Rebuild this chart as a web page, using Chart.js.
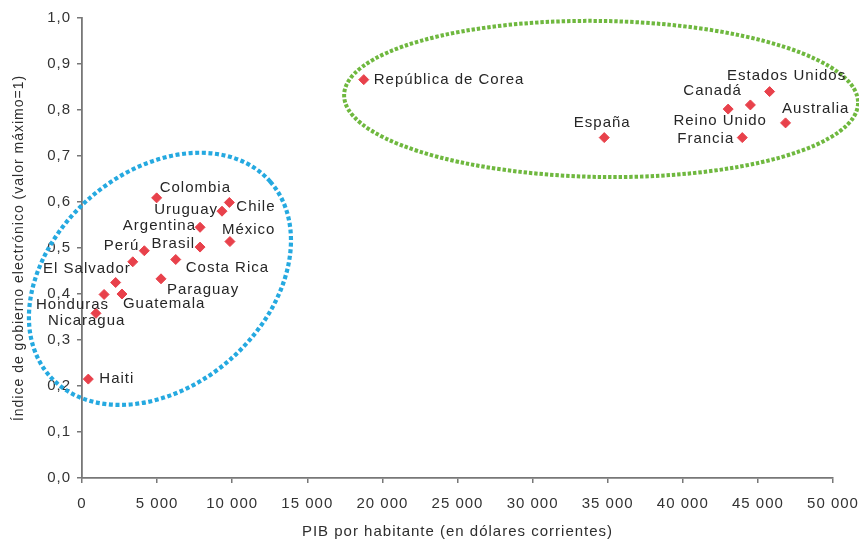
<!DOCTYPE html>
<html>
<head>
<meta charset="utf-8">
<script src="https://cdn.jsdelivr.net/npm/chart.js@4/dist/chart.umd.min.js"></script>
<style>
  html, body { margin: 0; padding: 0; background: #ffffff; }
  #wrap { width: 859px; height: 541px; position: relative; }
</style>
</head>
<body>
<div id="wrap"><canvas id="c"></canvas></div>
<script>
// ---- Data ----
const countries = [
  'Colombia', 'Chile', 'Uruguay', 'Argentina', 'México', 'Brasil', 'Perú',
  'Costa Rica', 'El Salvador', 'Paraguay', '', 'Guatemala', 'Honduras',
  'Nicaragua', 'Haiti',
  'República de Corea', 'España', 'Estados Unidos', 'Canadá', 'Reino Unido',
  'Australia', 'Francia'
];
const gdpPerCapita = [
  4970, 9810, 9320, 7860, 9850, 7860, 4150,
  6240, 3380, 5260, 2240, 2660, 1470,
  930, 420,
  18760, 34770, 45780, 44500, 43020,
  46840, 43960
];
const egovIndex = [
  0.609, 0.599, 0.580, 0.545, 0.514, 0.502, 0.494,
  0.475, 0.470, 0.433, 0.425, 0.400, 0.399,
  0.358, 0.215,
  0.866, 0.740, 0.840, 0.811, 0.802,
  0.772, 0.740
];
const xTicks = [0, 5000, 10000, 15000, 20000, 25000, 30000, 35000, 40000, 45000, 50000];
const yTicks = [0, 0.1, 0.2, 0.3, 0.4, 0.5, 0.6, 0.7, 0.8, 0.9, 1.0];
const xTitle = 'PIB por habitante (en dólares corrientes)';
const yTitle = 'Índice de gobierno electrónico (valor máximo=1)';

// ---- Label placement (style, in pixels relative to marker) ----
const labelPlacement = {
  'Colombia': ['left', 3, -10],
  'Chile': ['left', 7, 4],
  'Uruguay': ['right', -4, -1],
  'Argentina': ['right', -4, -1],
  'México': ['left', -8, -12],
  'Brasil': ['right', -5, -3],
  'Perú': ['right', -5, -5],
  'Costa Rica': ['left', 10, 8],
  'El Salvador': ['right', -2, 7],
  'Paraguay': ['left', 6, 11],
  'Guatemala': ['left', 1, 10],
  'Honduras': ['right', 5, 10],
  'Nicaragua': ['left', -48, 8],
  'Haiti': ['left', 11, 0],
  'República de Corea': ['left', 10, 0],
  'España': ['center', -2, -15],
  'Estados Unidos': ['center', 17, -16],
  'Canadá': ['right', -8.5, -14],
  'Reino Unido': ['center', -8, 12],
  'Australia': ['left', -3.5, -14],
  'Francia': ['right', -8, 1]
};

// Group outlines (center in data units, radii in px, rotation in degrees)
const groupOutlines = [
  { cx: 5190, cy: 0.433, rx: 147, ry: 107, rot: -41.4, color: '#25a9e0', width: 4.2, dash: [4, 2.6] },
  { cx: 34560, cy: 0.824, rx: 257, ry: 78, rot: 0.9, color: '#6fb83f', width: 4, dash: [3.4, 1.9] }
];

const FONT = "'Liberation Sans', Arial, sans-serif";
Chart.defaults.font.family = FONT;

const spacingPlugin = {
  id: 'spacing',
  beforeLayout(chart) { chart.ctx.letterSpacing = '1px'; },
  beforeDraw(chart) { chart.ctx.letterSpacing = '1px'; }
};

const outlinePlugin = {
  id: 'outlines',
  beforeDatasetsDraw(chart) {
    const ctx = chart.ctx, xs = chart.scales.x, ys = chart.scales.y;
    groupOutlines.forEach(o => {
      ctx.save();
      ctx.beginPath();
      ctx.ellipse(xs.getPixelForValue(o.cx), ys.getPixelForValue(o.cy), o.rx, o.ry,
                  o.rot * Math.PI / 180, 0, Math.PI * 2);
      ctx.strokeStyle = o.color;
      ctx.lineWidth = o.width;
      ctx.setLineDash(o.dash);
      ctx.lineCap = 'butt';
      ctx.stroke();
      ctx.restore();
    });
  }
};

const labelPlugin = {
  id: 'pointLabels',
  afterDatasetsDraw(chart) {
    const ctx = chart.ctx;
    const meta = chart.getDatasetMeta(0);
    ctx.save();
    ctx.letterSpacing = '1px';
    ctx.font = '15px ' + FONT;
    ctx.fillStyle = '#262626';
    ctx.textBaseline = 'middle';
    meta.data.forEach((pt, i) => {
      const name = countries[i];
      if (!name) return;
      const p = labelPlacement[name] || ['left', 8, 0];
      ctx.textAlign = p[0];
      ctx.fillText(name, pt.x + p[1], pt.y + p[2]);
    });
    ctx.restore();
  }
};

const fmtX = v => {
  const s = String(Math.round(v));
  return s.replace(/\B(?=(\d{3})+(?!\d))/g, ' ');
};
const fmtY = v => v.toFixed(1).replace('.', ',');

new Chart(document.getElementById('c'), {
  type: 'scatter',
  data: {
    datasets: [{
      data: gdpPerCapita.map((x, i) => ({ x: x, y: egovIndex[i] })),
      pointStyle: 'rectRot',
      pointRadius: 5,
      pointBackgroundColor: '#e8414b',
      pointBorderColor: '#e8414b',
      pointBorderWidth: 1
    }]
  },
  options: {
    responsive: true,
    maintainAspectRatio: false,
    animation: false,
    events: [],
    layout: { padding: { left: 0, right: 26, top: 18, bottom: 0 } },
    plugins: { legend: { display: false }, tooltip: { enabled: false } },
    scales: {
      x: {
        type: 'linear',
        min: xTicks[0], max: xTicks[xTicks.length - 1],
        afterBuildTicks: s => { s.ticks = xTicks.map(v => ({ value: v })); },
        afterFit: s => { s.height = 63; s.paddingLeft = 0; s.paddingRight = 0; },
        border: { display: true, color: '#777777', width: 1.8 },
        grid: { display: true, drawOnChartArea: false, drawTicks: true, tickLength: 5, color: '#777777', lineWidth: 1.5 },
        ticks: { callback: v => fmtX(v), color: '#333333', font: { size: 15 }, padding: 12, maxRotation: 0, autoSkip: false },
        title: { display: true, text: xTitle, color: '#2e2e2e', font: { size: 15 }, padding: { top: 0, bottom: 0 } }
      },
      y: {
        type: 'linear',
        min: yTicks[0], max: yTicks[yTicks.length - 1],
        afterBuildTicks: s => { s.ticks = yTicks.map(v => ({ value: v })); },
        afterFit: s => { s.width = 82; s.paddingTop = 0; s.paddingBottom = 0; },
        border: { display: true, color: '#777777', width: 1.8 },
        grid: { display: true, drawOnChartArea: false, drawTicks: true, tickLength: 5, color: '#777777', lineWidth: 1.5 },
        ticks: { callback: v => fmtY(v), color: '#333333', font: { size: 15 }, padding: 6, autoSkip: false },
        title: { display: true, text: yTitle, color: '#2e2e2e', font: { size: 14 }, padding: { top: 10.5, bottom: 0 } }
      }
    }
  },
  plugins: [spacingPlugin, outlinePlugin, labelPlugin]
});
</script>
</body>
</html>
